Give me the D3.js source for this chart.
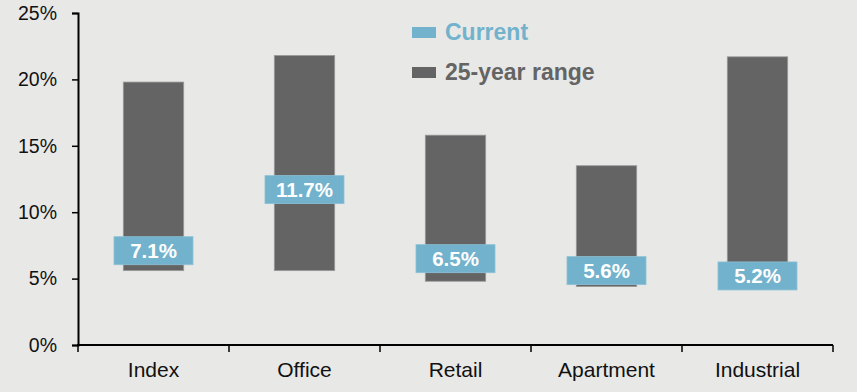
<!DOCTYPE html>
<html>
<head>
<meta charset="utf-8">
<script src="https://cdn.jsdelivr.net/npm/d3@7"></script>
<style>
  html, body { margin: 0; padding: 0; background: #e8e8e6; }
  svg { display: block; font-family: Arial, "Liberation Sans", sans-serif; }
</style>
</head>
<body>
<svg id="chart" width="857" height="392"></svg>
<script>
// Cap rate ranges by property type (25-year low/high) and current reading
const categories = ["Index", "Office", "Retail", "Apartment", "Industrial"];
const rangeLow  = [5.6, 5.6, 4.8, 4.4, 4.3];
const rangeHigh = [19.8, 21.8, 15.8, 13.5, 21.7];
const current   = [7.1, 11.7, 6.5, 5.6, 5.2];
const yTicks    = [0, 5, 10, 15, 20, 25];
const legendItems = ["Current", "25-year range"];

const COLOR_RANGE = "#646464";
const COLOR_CURRENT = "#72b2cc";

const svg = d3.select("#chart");
const margin = { top: 13, right: 24, bottom: 47, left: 78 };
const width = 857, height = 392;

const x = d3.scaleBand()
  .domain(categories)
  .range([margin.left, width - margin.right])
  .paddingInner(0.6)
  .paddingOuter(0.3);

const y = d3.scaleLinear()
  .domain([0, 25])
  .range([height - margin.bottom, margin.top]);

const rows = categories.map((c, i) => ({ cat: c, lo: rangeLow[i], hi: rangeHigh[i], cur: current[i] }));

// Range bars
svg.append("g").selectAll("rect")
  .data(rows)
  .join("rect")
  .attr("x", d => x(d.cat))
  .attr("y", d => y(d.hi))
  .attr("width", x.bandwidth())
  .attr("height", d => y(d.lo) - y(d.hi))
  .attr("fill", COLOR_RANGE)
  .attr("stroke", "#9a9a9a")
  .attr("stroke-width", 0.8);

// Current value boxes with labels
const boxW = 79, boxH = 28;
const cur = svg.append("g").selectAll("g")
  .data(rows)
  .join("g")
  .attr("transform", d => `translate(${x(d.cat) + x.bandwidth() / 2},${y(d.cur)})`);

cur.append("rect")
  .attr("x", -boxW / 2)
  .attr("y", -boxH / 2)
  .attr("width", boxW)
  .attr("height", boxH)
  .attr("fill", COLOR_CURRENT)
  .attr("stroke", "#8cc2d6")
  .attr("stroke-width", 0.8);

cur.append("text")
  .attr("text-anchor", "middle")
  .attr("dy", "0.36em")
  .attr("fill", "#ffffff")
  .attr("font-weight", "bold")
  .attr("font-size", 20.5)
  .text(d => d.cur.toFixed(1) + "%");

// Y axis
const yAxis = svg.append("g")
  .attr("transform", `translate(${margin.left},0)`)
  .call(d3.axisLeft(y).tickValues(yTicks).tickFormat(d => d + "%").tickSize(6).tickPadding(15));
yAxis.select(".domain").attr("stroke", "#000").attr("stroke-width", 2);
yAxis.selectAll(".tick line").attr("stroke", "#000").attr("stroke-width", 1.5);
yAxis.selectAll(".tick text").attr("font-size", 19.5).attr("fill", "#111").attr("font-family", "Arial, 'Liberation Sans', sans-serif");

// X axis with boundary ticks between categories
const xAxisY = y(0);
const xg = svg.append("g");
xg.append("line")
  .attr("x1", margin.left - 1).attr("x2", width - margin.right)
  .attr("y1", xAxisY).attr("y2", xAxisY)
  .attr("stroke", "#000").attr("stroke-width", 2);
const bounds = categories.map(c => x(c) - x.step() * x.paddingInner() / 2);
bounds.push(width - margin.right);
xg.selectAll("line.tick")
  .data(bounds)
  .join("line")
  .attr("class", "tick")
  .attr("x1", d => d).attr("x2", d => d)
  .attr("y1", xAxisY).attr("y2", xAxisY + 7)
  .attr("stroke", "#000").attr("stroke-width", 1.5);
xg.selectAll("text")
  .data(categories)
  .join("text")
  .attr("x", d => x(d) + x.bandwidth() / 2)
  .attr("y", xAxisY + 32)
  .attr("text-anchor", "middle")
  .attr("font-size", 21)
  .attr("fill", "#111")
  .text(d => d);

// Legend
const legendColors = [COLOR_CURRENT, COLOR_RANGE];
const lg = svg.append("g").selectAll("g")
  .data(legendItems)
  .join("g")
  .attr("transform", (d, i) => `translate(412,${27 + i * 40})`);
lg.append("rect")
  .attr("width", 24).attr("height", 11)
  .attr("fill", (d, i) => legendColors[i]);
lg.append("text")
  .attr("x", 33).attr("y", 13)
  .attr("font-size", 23)
  .attr("font-weight", "bold")
  .attr("fill", (d, i) => legendColors[i])
  .text(d => d);
</script>
</body>
</html>
